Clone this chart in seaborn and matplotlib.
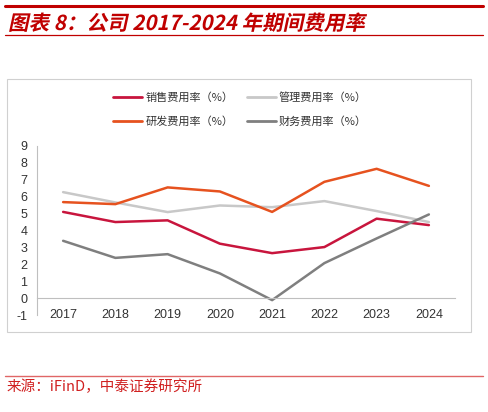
import numpy as np
import pandas as pd
import matplotlib
matplotlib.use("Agg")
import matplotlib.pyplot as plt
import seaborn as sns
from matplotlib.patches import Rectangle
from matplotlib.lines import Line2D
from matplotlib.patheffects import AbstractPathEffect
from matplotlib.transforms import Affine2D

# -------------------------------
# data
# -------------------------------
years = ["2017", "2018", "2019", "2020", "2021", "2022", "2023", "2024"]
sales = [5.1, 4.5, 4.6, 3.22, 2.66, 3.02, 4.7, 4.32]
admin = [6.27, 5.66, 5.09, 5.48, 5.38, 5.74, 5.15, 4.5]
rnd = [5.68, 5.56, 6.55, 6.31, 5.1, 6.88, 7.65, 6.64]
finance = [3.39, 2.38, 2.6, 1.46, -0.12, 2.07, 3.53, 4.95]

series_names = ["销售费用率（%）", "管理费用率（%）", "研发费用率（%）", "财务费用率（%）"]
colors = ["#C8153D", "#C8C8C8", "#E6521F", "#7F7F7F"]

df = pd.DataFrame({"year": years,
                   series_names[0]: sales,
                   series_names[1]: admin,
                   series_names[2]: rnd,
                   series_names[3]: finance})
long_df = df.melt(id_vars="year", var_name="series", value_name="value")
long_df["x"] = long_df["year"].map({y: i for i, y in enumerate(years)})

sns.set_style("white")
cjk = ["Noto Sans CJK SC", "DejaVu Sans"]
plt.rcParams["font.family"] = cjk
plt.rcParams["axes.unicode_minus"] = False


class Skew(AbstractPathEffect):
    """fake italic: shear glyph paths around their baseline"""
    def __init__(self, deg=12):
        super().__init__()
        self.deg = deg

    def draw_path(self, renderer, gc, tpath, affine, rgbFace=None):
        x0, y0 = affine.transform((0, 0))
        t = affine + Affine2D().translate(-x0, -y0).skew_deg(self.deg, 0).translate(x0, y0)
        renderer.draw_path(gc, tpath, t, rgbFace)


W, H = 488, 412
fig = plt.figure(figsize=(W / 100, H / 100), dpi=100)

def fx(px):
    return px / W

def fy(py):
    return 1 - py / H

# header / footer decorations
fig.add_artist(Line2D([fx(5), fx(483)], [fy(6), fy(6)], color="#C00000", lw=2.2))
fig.add_artist(Line2D([fx(5), fx(483)], [fy(35), fy(35)], color="#C00000", lw=0.9))
fig.text(fx(8), fy(30), "图表 8：公司 2017-2024 年期间费用率", color="#C00000",
         fontsize=14.8, fontweight="bold", family=cjk, va="baseline",
         path_effects=[Skew(12)])
fig.add_artist(Rectangle((fx(7), fy(332)), fx(471) - fx(7), fy(79) - fy(332),
                         fill=False, edgecolor="#D0D0D0", lw=0.8))
fig.add_artist(Line2D([fx(5), fx(483)], [fy(376), fy(376)], color="#E06666", lw=1.0))
fig.text(fx(7), fy(387), "来源：iFinD，中泰证券研究所", color="#D02020",
         fontsize=10.5, family=cjk, va="center")

# main axes
ax = fig.add_axes([fx(37), fy(315), fx(455) - fx(37), fy(146) - fy(315)])
sns.lineplot(data=long_df, x="x", y="value", hue="series", hue_order=series_names,
             palette=colors, linewidth=1.8, ax=ax, legend=False, sort=False)

ax.set_xlim(-0.5, 7.5)
ax.set_ylim(-1, 9)
ax.set_xlabel("")
ax.set_ylabel("")
ax.set_yticks(range(-1, 10))
ax.set_xticks(range(len(years)))
ax.set_xticklabels(years)
ax.set_xticks(np.arange(-0.5, 8, 1.0), minor=True)

for s in ["top", "right"]:
    ax.spines[s].set_visible(False)
ax.spines["bottom"].set_position(("data", 0))
ax.spines["bottom"].set_color("#BFBFBF")
ax.spines["left"].set_color("#BFBFBF")
ax.spines["bottom"].set_linewidth(0.8)
ax.spines["left"].set_linewidth(0.8)

ax.tick_params(axis="x", which="major", length=0, pad=8, labelsize=9,
               labelcolor="#333333")
ax.tick_params(axis="x", which="minor", length=3, direction="out", color="#BFBFBF")
ax.tick_params(axis="y", which="major", length=3, direction="out", color="#BFBFBF",
               labelsize=9, labelcolor="#333333", pad=4)
for lab in ax.get_xticklabels() + ax.get_yticklabels():
    lab.set_fontfamily(["Liberation Sans", "DejaVu Sans"])

# legend, two rows (column-first fill, so reorder)
order = [0, 2, 1, 3]
handles = [Line2D([], [], color=colors[i], lw=2) for i in order]
labels = [series_names[i] for i in order]
fig.legend(handles, labels, ncol=2, loc="center",
           bbox_to_anchor=(fx(240), fy(109)), frameon=False,
           prop={"family": cjk, "size": 8}, handlelength=2.6,
           columnspacing=1.2, handletextpad=0.3, labelspacing=1.2,
           labelcolor="#333333")

fig.savefig("out.png", dpi=100)
